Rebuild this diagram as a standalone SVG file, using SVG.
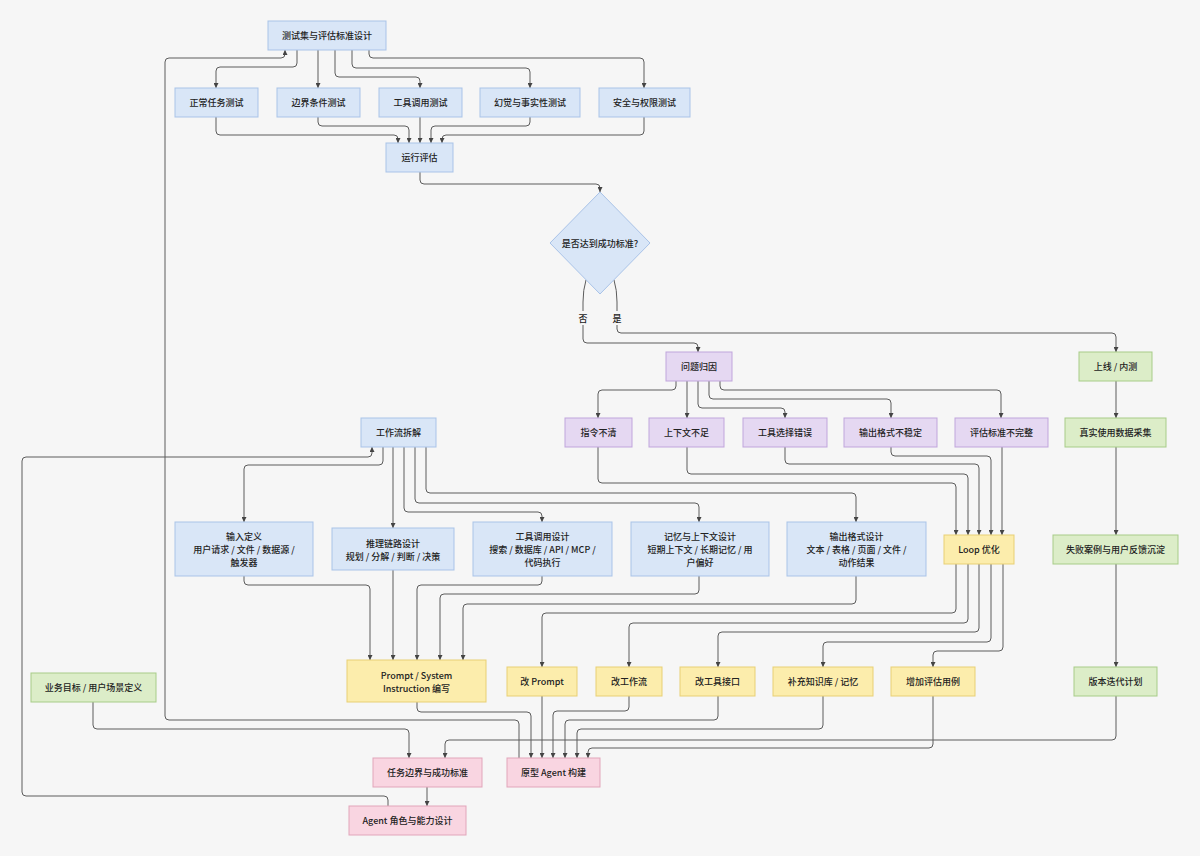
<svg xmlns="http://www.w3.org/2000/svg" width="1200" height="856" viewBox="0 0 1200 856">
<style>
text{font-family:"Noto Sans CJK SC","Liberation Sans",sans-serif;font-size:9px;fill:#222;text-anchor:middle;dominant-baseline:central;font-weight:500}
.b{fill:#d9e6f7;stroke:#a9c3e8;stroke-width:1}
.p{fill:#e5d8f2;stroke:#c0a5dc;stroke-width:1}
.g{fill:#dcedc8;stroke:#a7cc88;stroke-width:1}
.y{fill:#fcedac;stroke:#e8cf74;stroke-width:1}
.k{fill:#f9d5e1;stroke:#e1a5ba;stroke-width:1}
#edges path{fill:none;stroke:#5c5c5c;stroke-width:1;marker-end:url(#a)}
#edges path.n{marker-end:none}
.lb{fill:#f6f6f6}
</style>
<defs>
<marker id="a" viewBox="0 0 10 10" refX="10" refY="5" markerWidth="5" markerHeight="5" orient="auto"><path d="M0,0 L10,5 L0,10 z" fill="#444"/></marker>
</defs>
<rect width="1200" height="856" fill="#f6f6f6"/>
<g id="edges">
<path d="M93 702 V725 Q93 729 97 729 H405 Q409 729 409 733 V758"/>
<path d="M427 787 V806"/>
<path d="M388 806 V800 Q388 796 384 796 H26 Q22 796 22 792 V461 Q22 457 26 457 H368 Q372 457 372 453 V447"/>
<path d="M383 447 V461 Q383 465 379 465 H248 Q244 465 244 469 V522"/>
<path d="M393 447 V528"/>
<path d="M404 447 V508 Q404 512 408 512 H538 Q542 512 542 516 V522"/>
<path d="M415 447 V499 Q415 503 419 503 H695 Q699 503 699 507 V522"/>
<path d="M426 447 V489 Q426 493 430 493 H852 Q856 493 856 497 V522"/>
<path d="M244 576 V581 Q244 585 248 585 H366 Q370 585 370 589 V660"/>
<path d="M393 570 V660"/>
<path d="M542 576 V581 Q542 585 538 585 H421 Q417 585 417 589 V660"/>
<path d="M699 576 V590 Q699 594 695 594 H444 Q440 594 440 598 V660"/>
<path d="M856 576 V600 Q856 604 852 604 H467 Q463 604 463 608 V660"/>
<path d="M417 702 V708 Q417 712 421 712 H527 Q531 712 531 716 V758"/>
<path d="M519 758 V724 Q519 720 515 720 H169 Q165 720 165 716 V62 Q165 58 169 58 H281 Q285 58 285 54 V50"/>
<path d="M297 50 V63 Q297 67 293 67 H220 Q216 67 216 71 V88"/>
<path d="M318 50 V88"/>
<path d="M335 50 V73 Q335 77 339 77 H416 Q420 77 420 81 V88"/>
<path d="M352 50 V64 Q352 68 356 68 H526 Q530 68 530 72 V88"/>
<path d="M369 50 V54 Q369 58 373 58 H640 Q644 58 644 62 V88"/>
<path d="M216 117 V131 Q216 135 220 135 H394 Q398 135 398 139 V143"/>
<path d="M318 117 V122 Q318 126 322 126 H405 Q409 126 409 130 V143"/>
<path d="M420 117 V143"/>
<path d="M530 117 V122 Q530 126 526 126 H435 Q431 126 431 130 V143"/>
<path d="M644 117 V131 Q644 135 640 135 H446 Q442 135 442 139 V143"/>
<path d="M420 172 V180 Q420 184 424 184 H596 Q600 184 600 188 V192"/>
<path d="M586 280 Q583 290 583 302 V339 Q583 343 587 343 H694 Q698 343 698 347 V352"/>
<path d="M614 280 Q617 290 617 302 V329 Q617 333 621 333 H1112 Q1116 333 1116 337 V352"/>
<path d="M676 381 V386 Q676 390 672 390 H602 Q598 390 598 394 V418"/>
<path d="M687 381 V418"/>
<path d="M698 381 V404 Q698 408 702 408 H781 Q785 408 785 412 V418"/>
<path d="M709 381 V395 Q709 399 713 399 H887 Q891 399 891 403 V418"/>
<path d="M720 381 V386 Q720 390 724 390 H997 Q1001 390 1001 394 V418"/>
<path d="M598 447 V479 Q598 483 602 483 H952 Q956 483 956 487 V535"/>
<path d="M687 447 V470 Q687 474 691 474 H964 Q968 474 968 478 V535"/>
<path d="M785 447 V460 Q785 464 789 464 H975 Q979 464 979 468 V535"/>
<path d="M891 447 V452 Q891 456 895 456 H987 Q991 456 991 460 V535"/>
<path d="M1002 447 V535"/>
<path d="M956 564 V609 Q956 613 952 613 H546 Q542 613 542 617 V667"/>
<path d="M968 564 V619 Q968 623 964 623 H633 Q629 623 629 627 V667"/>
<path d="M979 564 V628 Q979 632 975 632 H722 Q718 632 718 636 V667"/>
<path d="M991 564 V638 Q991 642 987 642 H827 Q823 642 823 646 V667"/>
<path d="M1003 564 V647 Q1003 651 999 651 H937 Q933 651 933 655 V667"/>
<path d="M542 696 V758"/>
<path d="M629 696 V707 Q629 711 625 711 H557 Q553 711 553 715 V758"/>
<path d="M718 696 V716 Q718 720 714 720 H569 Q565 720 565 724 V758"/>
<path d="M823 696 V725 Q823 729 819 729 H581 Q577 729 577 733 V758"/>
<path d="M933 696 V744 Q933 748 929 748 H592 Q588 748 588 752 V758"/>
<path d="M1116 381 V418"/>
<path d="M1116 447 V535"/>
<path d="M1116 564 V667"/>
<path d="M1116 696 V736 Q1116 740 1112 740 H449 Q445 740 445 744 V758"/>
<rect class="lb" x="577" y="311" width="12" height="14"/>
<text x="583" y="318">否</text>
<rect class="lb" x="611" y="311" width="12" height="14"/>
<text x="617" y="318">是</text>
</g>
<g id="n-testset"><rect class="b" x="268" y="21" width="118" height="29"/><text x="327" y="35.5">测试集与评估标准设计</text></g>
<g id="n-t1"><rect class="b" x="175" y="88" width="83" height="29"/><text x="216.5" y="102.5">正常任务测试</text></g>
<g id="n-t2"><rect class="b" x="277" y="88" width="83" height="29"/><text x="318.5" y="102.5">边界条件测试</text></g>
<g id="n-t3"><rect class="b" x="379" y="88" width="83" height="29"/><text x="420.5" y="102.5">工具调用测试</text></g>
<g id="n-t4"><rect class="b" x="480" y="88" width="100" height="29"/><text x="530" y="102.5">幻觉与事实性测试</text></g>
<g id="n-t5"><rect class="b" x="599" y="88" width="91" height="29"/><text x="644.5" y="102.5">安全与权限测试</text></g>
<g id="n-run"><rect class="b" x="386" y="143" width="67" height="29"/><text x="419.5" y="157.5">运行评估</text></g>
<g id="n-decide"><polygon class="b" points="600,192 650,243 600,294 550,243"/><text x="600" y="243">是否达到成功标准?</text></g>
<g id="n-cause"><rect class="p" x="666" y="352" width="66" height="29"/><text x="699" y="366.5">问题归因</text></g>
<g id="n-c1"><rect class="p" x="565" y="418" width="67" height="29"/><text x="598.5" y="432.5">指令不清</text></g>
<g id="n-c2"><rect class="p" x="649" y="418" width="75" height="29"/><text x="686.5" y="432.5">上下文不足</text></g>
<g id="n-c3"><rect class="p" x="743" y="418" width="84" height="29"/><text x="785" y="432.5">工具选择错误</text></g>
<g id="n-c4"><rect class="p" x="844" y="418" width="93" height="29"/><text x="890.5" y="432.5">输出格式不稳定</text></g>
<g id="n-c5"><rect class="p" x="955" y="418" width="93" height="29"/><text x="1001.5" y="432.5">评估标准不完整</text></g>
<g id="n-launch"><rect class="g" x="1079" y="352" width="73" height="29"/><text x="1115.5" y="366.5">上线 / 内测</text></g>
<g id="n-data"><rect class="g" x="1065" y="418" width="101" height="29"/><text x="1115.5" y="432.5">真实使用数据采集</text></g>
<g id="n-fail"><rect class="g" x="1053" y="535" width="125" height="29"/><text x="1115.5" y="549.5">失败案例与用户反馈沉淀</text></g>
<g id="n-ver"><rect class="g" x="1074" y="667" width="83" height="29"/><text x="1115.5" y="681.5">版本迭代计划</text></g>
<g id="n-biz"><rect class="g" x="31" y="673" width="125" height="29"/><text x="93.5" y="687.5">业务目标 / 用户场景定义</text></g>
<g id="n-wf"><rect class="b" x="361" y="418" width="75" height="29"/><text x="398.5" y="432.5">工作流拆解</text></g>
<g id="n-in"><rect class="b" x="175" y="522" width="138" height="54"/><text x="244" y="536">输入定义</text><text x="244" y="549">用户请求 / 文件 / 数据源 /</text><text x="244" y="562">触发器</text></g>
<g id="n-reason"><rect class="b" x="332" y="528" width="122" height="42"/><text x="393" y="543">推理链路设计</text><text x="393" y="556">规划 / 分解 / 判断 / 决策</text></g>
<g id="n-tool"><rect class="b" x="473" y="522" width="139" height="54"/><text x="542.5" y="536">工具调用设计</text><text x="542.5" y="549">搜索 / 数据库 / API / MCP /</text><text x="542.5" y="562">代码执行</text></g>
<g id="n-mem"><rect class="b" x="631" y="522" width="138" height="54"/><text x="700" y="536">记忆与上下文设计</text><text x="700" y="549">短期上下文 / 长期记忆 / 用</text><text x="700" y="562">户偏好</text></g>
<g id="n-out"><rect class="b" x="787" y="522" width="139" height="54"/><text x="856.5" y="536">输出格式设计</text><text x="856.5" y="549">文本 / 表格 / 页面 / 文件 /</text><text x="856.5" y="562">动作结果</text></g>
<g id="n-loop"><rect class="y" x="944" y="535" width="70" height="29"/><text x="979" y="549.5">Loop 优化</text></g>
<g id="n-prompt"><rect class="y" x="347" y="660" width="139" height="42"/><text x="416.5" y="675">Prompt / System</text><text x="416.5" y="688">Instruction 编写</text></g>
<g id="n-f1"><rect class="y" x="507" y="667" width="70" height="29"/><text x="542" y="681.5">改 Prompt</text></g>
<g id="n-f2"><rect class="y" x="596" y="667" width="66" height="29"/><text x="629" y="681.5">改工作流</text></g>
<g id="n-f3"><rect class="y" x="680" y="667" width="75" height="29"/><text x="717.5" y="681.5">改工具接口</text></g>
<g id="n-f4"><rect class="y" x="773" y="667" width="100" height="29"/><text x="823" y="681.5">补充知识库 / 记忆</text></g>
<g id="n-f5"><rect class="y" x="891" y="667" width="84" height="29"/><text x="933" y="681.5">增加评估用例</text></g>
<g id="n-scope"><rect class="k" x="373" y="758" width="109" height="29"/><text x="427.5" y="772.5">任务边界与成功标准</text></g>
<g id="n-proto"><rect class="k" x="507" y="758" width="93" height="29"/><text x="553.5" y="772.5">原型 Agent 构建</text></g>
<g id="n-role"><rect class="k" x="349" y="806" width="117" height="29"/><text x="407.5" y="820.5">Agent 角色与能力设计</text></g>
</svg>
